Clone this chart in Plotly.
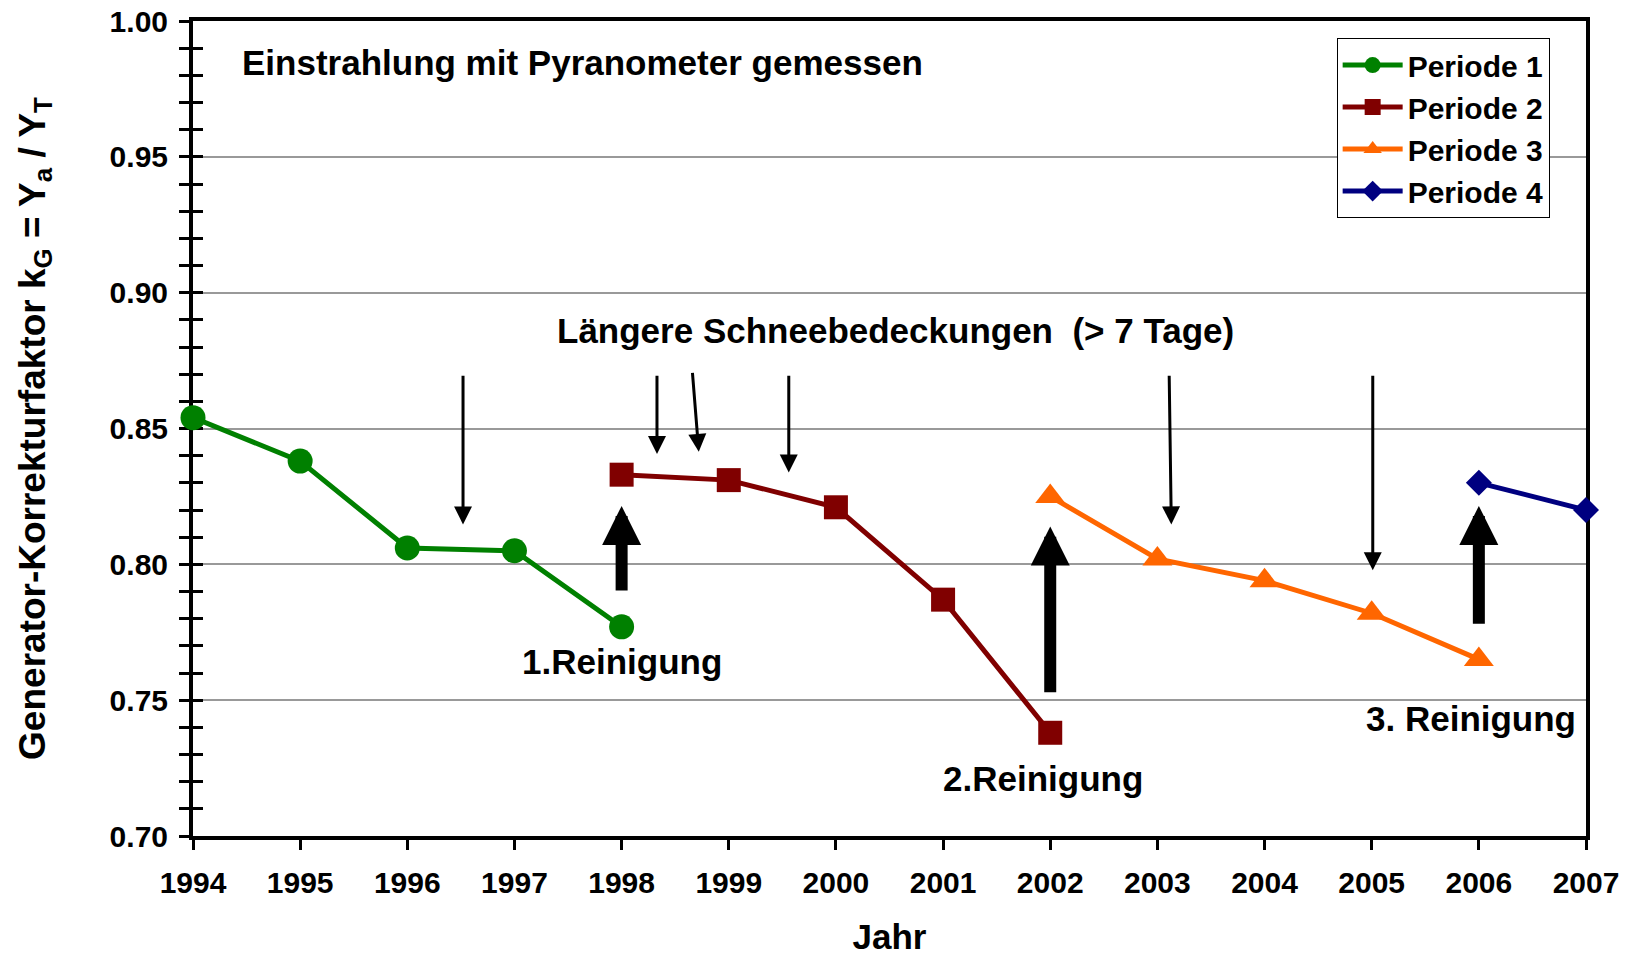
import plotly.graph_objects as go

# Generator-Korrekturfaktor per year, four periods between cleanings
years_p1 = [1994, 1995, 1996, 1997, 1998]
kg_p1 = [0.854, 0.838, 0.806, 0.805, 0.777]
years_p2 = [1998, 1999, 2000, 2001, 2002]
kg_p2 = [0.833, 0.831, 0.821, 0.787, 0.738]
years_p3 = [2002, 2003, 2004, 2005, 2006]
kg_p3 = [0.825, 0.802, 0.794, 0.782, 0.765]
years_p4 = [2006, 2007]
kg_p4 = [0.830, 0.820]

# snow cover arrows: (x top, y top, x tip, y tip)
snow_arrows = [
    (1996.52, 0.870, 1996.52, 0.8147),
    (1998.33, 0.870, 1998.33, 0.8406),
    (1998.66, 0.871, 1998.72, 0.8414),
    (1999.56, 0.870, 1999.56, 0.8338),
    (2003.11, 0.870, 2003.13, 0.8147),
    (2005.01, 0.870, 2005.01, 0.7978),
]
# cleaning arrows: (x, y base, y tip)
clean_arrows = [
    (1998.0, 0.7898, 0.8215),
    (2002.0, 0.7524, 0.8139),
    (2006.0, 0.7776, 0.8215),
]
clean_labels = [
    (1998.0, 0.7642, "1.Reinigung"),
    (2001.93, 0.721, "2.Reinigung"),
    (2005.93, 0.7432, "3. Reinigung"),
]

FONT = "Liberation Sans, Arial, sans-serif"

fig = go.Figure()
series = [
    (years_p1, kg_p1, "Periode 1", "#008000", "circle", 25),
    (years_p2, kg_p2, "Periode 2", "#800000", "square", 24),
    (years_p3, kg_p3, "Periode 3", "#FF6600", "triangle-up", 26),
    (years_p4, kg_p4, "Periode 4", "#000080", "diamond", 20),
]
for xs, ys, name, col, sym, size in series:
    fig.add_trace(go.Scatter(
        x=xs, y=ys, name=name, mode="lines+markers",
        line=dict(color=col, width=5),
        marker=dict(color=col, symbol=sym, size=size),
        cliponaxis=False,
    ))
# empty trace so the overlay axis (inside ticks) gets drawn
fig.add_trace(go.Scatter(x=[], y=[], yaxis="y2", showlegend=False))

annotations = []
for x0, y0, x1, y1 in snow_arrows:
    annotations.append(dict(
        x=x1, y=y1, ax=x0, ay=y0, xref="x", yref="y", axref="x", ayref="y",
        text="", showarrow=True, arrowhead=2, arrowsize=1.2, arrowwidth=3,
        arrowcolor="black"))
for x, yb, yt in clean_arrows:
    annotations.append(dict(
        x=x, y=yt, ax=x, ay=yb, xref="x", yref="y", axref="x", ayref="y",
        text="", showarrow=True, arrowhead=2, arrowsize=0.65, arrowwidth=12,
        arrowcolor="black"))
label_font = dict(size=35, family=FONT, color="black", weight="bold")
for x, y, txt in clean_labels:
    annotations.append(dict(x=x, y=y, text=txt, showarrow=False, font=label_font))
annotations.append(dict(x=2000.56, y=0.886, text="Längere Schneebedeckungen  (> 7 Tage)",
                        showarrow=False, font=label_font))
annotations.append(dict(x=1994.44, y=0.9847, text="Einstrahlung mit Pyranometer gemessen",
                        xanchor="left", showarrow=False, font=label_font))

# page body has an 8px margin, so the margins are shifted by 8px
fig.update_layout(
    width=1613, height=948,
    margin=dict(l=185, r=35, t=13, b=120),
    plot_bgcolor="white", paper_bgcolor="white",
    font=dict(family=FONT, size=30, color="black", weight="bold"),
    showlegend=True,
    legend=dict(x=0.821, y=0.979, xanchor="left", yanchor="top",
                bgcolor="white", bordercolor="black", borderwidth=1,
                font=dict(size=30, family=FONT, weight="bold"),
                itemwidth=60, tracegroupgap=0),
    annotations=annotations,
    xaxis=dict(
        range=[1994, 2007], dtick=1, tick0=1994,
        showgrid=False, zeroline=False, automargin=False,
        showline=True, linecolor="black", linewidth=4, mirror=True,
        ticks="outside", ticklen=10, tickwidth=3, tickcolor="black",
        ticklabelstandoff=7, ticklabeloverflow="allow",
        title=dict(text="Jahr", font=dict(size=35, family=FONT, weight="bold"), standoff=36),
        layer="below traces",
    ),
    yaxis=dict(
        range=[0.70, 1.00], dtick=0.05, tick0=0.70, tickformat=".2f",
        showgrid=True, gridcolor="#999999", gridwidth=2, zeroline=False, automargin=False,
        showline=True, linecolor="black", linewidth=4, mirror=True,
        ticks="outside", ticklen=10, tickwidth=3, tickcolor="black",
        ticklabelstandoff=5, ticklabeloverflow="allow",
        minor=dict(dtick=0.01, ticks="outside", ticklen=10, tickwidth=3, tickcolor="black", showgrid=False),
        title=dict(text="Generator-Korrekturfaktor k<sub>G</sub> = Y<sub>a</sub> / Y<sub>T</sub>",
                   font=dict(size=37, family=FONT, weight="bold"), standoff=54),
        layer="below traces",
    ),
    yaxis2=dict(
        range=[0.70, 1.00], dtick=0.05, tick0=0.70, overlaying="y", side="left", anchor="x",
        showgrid=False, zeroline=False, showline=False, showticklabels=False, automargin=False,
        ticks="inside", ticklen=10, tickwidth=3, tickcolor="black",
        minor=dict(dtick=0.01, ticks="inside", ticklen=10, tickwidth=3, tickcolor="black", showgrid=False),
        layer="below traces",
    ),
)

fig.write_html("out.html")
